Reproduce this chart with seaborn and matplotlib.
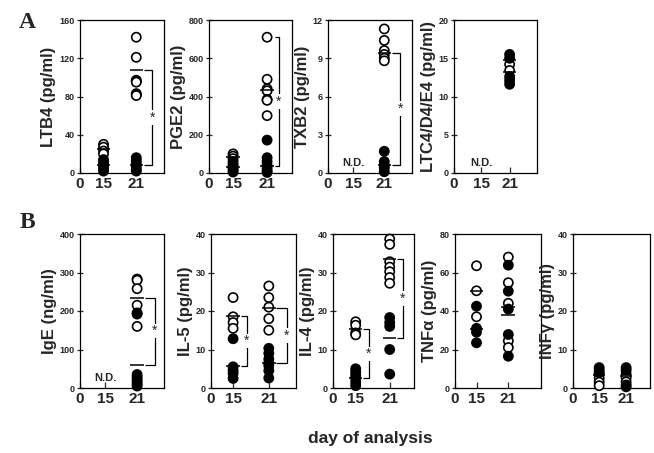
import matplotlib
matplotlib.use('Agg')
import matplotlib.pyplot as plt
import seaborn as sns
import pandas as pd

sns.set_style('ticks')
plt.rcParams['font.family'] = ['Liberation Sans', 'DejaVu Sans']
plt.rcParams['font.weight'] = 'bold'
plt.rcParams['axes.labelweight'] = 'bold'

DAY_LABELS = ['0', '15', '21']

# ---------------- data ----------------
LTB4_OPEN = {15: [30, 27, 23, 20], 21: [142, 121, 97, 96, 95, 83, 82, 81]}
LTB4_FILLED = {15: [14, 11, 8, 5, 2], 21: [16, 13, 10, 7, 4, 2]}
LTB4_MEANS = {15: [25, 8], 21: [108, 8]}
LTB4_SIG = {21: (108, 8)}

PGE2_OPEN = {15: [100, 88, 75], 21: [710, 490, 440, 430, 385, 380, 300]}
PGE2_FILLED = {15: [60, 45, 35, 25, 15, 5], 21: [172, 80, 60, 40, 25, 10, 3]}
PGE2_MEANS = {15: [85, 33], 21: [435, 38]}
PGE2_SIG = {21: (711, 36)}

TXB2_OPEN = {21: [11.3, 10.4, 9.6, 9.3, 9.0, 8.8]}
TXB2_FILLED = {21: [1.7, 0.9, 0.6, 0.4, 0.1]}
TXB2_MEANS = {21: [9.45, 0.62]}
TXB2_SIG = {21: (9.45, 0.62)}

LTC_OPEN = {21: [14.2, 13.4]}
LTC_FILLED = {21: [15.5, 15.0, 12.6, 12.1, 11.6]}
LTC_MEANS = {21: [14.8, 13.2]}
LTC_SIG = {}

IGE_OPEN = {21: [283, 280, 258, 215, 192, 160]}
IGE_FILLED = {21: [195, 35, 28, 22, 16, 10, 5]}
IGE_MEANS = {21: [235, 61]}
IGE_SIG = {21: (235, 61)}

IL5_OPEN = {15: [23.5, 18.5, 17.0, 15.5], 21: [26.5, 23.5, 21.0, 18.0, 15.0]}
IL5_FILLED = {15: [12.8, 5.5, 4.6, 3.8, 2.5], 21: [10.3, 9.0, 7.5, 6.5, 5.8, 4.5, 2.6]}
IL5_MEANS = {15: [18.7, 5.7], 21: [20.7, 6.4]}
IL5_SIG = {15: (18.7, 5.7), 21: (20.7, 6.4)}

IL4_OPEN = {15: [17.2, 16.3, 14.3, 13.8], 21: [38.7, 37.3, 32.8, 31.4, 30.2, 28.7, 27.2]}
IL4_FILLED = {15: [5.0, 4.2, 3.3, 2.5, 1.5, 0.6], 21: [18.3, 17.0, 16.0, 10.0, 3.6]}
IL4_MEANS = {15: [15.2, 2.5], 21: [33.4, 13.0]}
IL4_SIG = {15: (15.2, 2.5), 21: (33.4, 13.0)}

TNF_OPEN = {15: [63.5, 50.5, 37.0], 21: [68.0, 54.7, 44.0, 24.5, 21.0]}
TNF_FILLED = {15: [42.5, 31.0, 29.0, 23.5], 21: [63.8, 50.3, 41.0, 27.8, 16.5]}
TNF_MEANS = {15: [50.6, 30.4], 21: [42.0, 38.0]}
TNF_SIG = {}

INF_OPEN = {15: [3.5, 2.5, 1.5, 0.6], 21: [3.6, 2.6, 1.6]}
INF_FILLED = {15: [5.3, 4.6, 4.0], 21: [5.3, 4.6, 0.8, 0.3]}
INF_MEANS = {15: [3.3], 21: [3.2]}
INF_SIG = {}

# ---------------- layout ----------------
W, H = 654, 453
fig = plt.figure(figsize=(W / 100, H / 100), dpi=100)


def rect(l, r, t, b):
    return [l / W, 1 - b / H, (r - l) / W, (b - t) / H]


panels = [
    # ylabel, ymax, step, rect(px), xpos, open, filled, means, sig, bracket-x, N.D.
    ('LTB4 (pg/ml)', 160, 40, (80, 164, 20, 173), {15: 0.28, 21: 0.67},
     LTB4_OPEN, LTB4_FILLED, LTB4_MEANS, LTB4_SIG, {21: 0.86}, False),
    ('PGE2 (pg/ml)', 800, 200, (209, 292, 20, 173), {15: 0.29, 21: 0.70},
     PGE2_OPEN, PGE2_FILLED, PGE2_MEANS, PGE2_SIG, {21: 0.84}, False),
    ('TXB2 (pg/ml)', 12, 3, (328, 412, 20, 173), {15: 0.30, 21: 0.67},
     TXB2_OPEN, TXB2_FILLED, TXB2_MEANS, TXB2_SIG, {21: 0.86}, True),
    ('LTC4/D4/E4 (pg/ml)', 20, 5, (454, 537, 20, 173), {15: 0.33, 21: 0.67},
     LTC_OPEN, LTC_FILLED, LTC_MEANS, LTC_SIG, {}, True),
    ('IgE (ng/ml)', 400, 100, (80, 164, 234, 388), {15: 0.30, 21: 0.68},
     IGE_OPEN, IGE_FILLED, IGE_MEANS, IGE_SIG, {21: 0.89}, True),
    ('IL-5 (pg/ml)', 40, 10, (211, 296, 234, 388), {15: 0.26, 21: 0.68},
     IL5_OPEN, IL5_FILLED, IL5_MEANS, IL5_SIG, {15: 0.42, 21: 0.89}, False),
    ('IL-4 (pg/ml)', 40, 10, (333, 414, 234, 388), {15: 0.28, 21: 0.70},
     IL4_OPEN, IL4_FILLED, IL4_MEANS, IL4_SIG, {15: 0.44, 21: 0.86}, False),
    ('TNFα (pg/ml)', 80, 20, (455, 541, 234, 388), {15: 0.25, 21: 0.62},
     TNF_OPEN, TNF_FILLED, TNF_MEANS, TNF_SIG, {}, False),
    ('INFγ (pg/ml)', 40, 10, (573, 650, 234, 388), {15: 0.34, 21: 0.69},
     INF_OPEN, INF_FILLED, INF_MEANS, INF_SIG, {}, False),
]

for (ylabel, ymax, step, r, xpos, opn, fil, means, sig, bx, nd) in panels:
    ax = fig.add_axes(rect(*r))
    rows = []
    for day, vals in opn.items():
        rows += [(xpos[day], v, 'open') for v in vals]
    for day, vals in fil.items():
        rows += [(xpos[day], v, 'filled') for v in vals]
    df = pd.DataFrame(rows, columns=['pos', 'value', 'group'])
    sns.stripplot(data=df, x='pos', y='value', hue='group',
                  hue_order=['open', 'filled'],
                  palette={'open': 'white', 'filled': 'black'},
                  jitter=False, native_scale=True, orient='x', size=6.6,
                  linewidth=1.2, edgecolor='black', legend=False, ax=ax,
                  zorder=3, clip_on=False)
    for day, ms in means.items():
        ax.hlines(ms, xpos[day] - 0.08, xpos[day] + 0.08, color='black',
                  lw=1.1, zorder=4)
    for day, (top, bot) in sig.items():
        x0 = xpos[day] + 0.09
        x1 = bx[day]
        ax.plot([x0, x1, x1, x0], [top, top, bot, bot], color='black',
                lw=0.9, zorder=2, solid_capstyle='butt')
        ax.text(x1, (top + bot) / 2, '*', ha='center', va='center',
                fontsize=10, fontweight='normal', zorder=5,
                bbox=dict(facecolor='white', edgecolor='none', pad=0.3))
    if nd:
        ax.text(xpos[15], ymax * 0.035, 'N.D.', ha='center', va='bottom',
                fontsize=8, fontweight='bold')
    ax.set_xlim(0, 1)
    ax.set_ylim(0, ymax)
    ax.set_xticks([0, xpos[15], xpos[21]])
    ax.set_xticklabels(DAY_LABELS)
    ax.set_yticks(list(range(0, ymax + 1, step)))
    ax.set_xlabel('')
    ax.set_ylabel(ylabel, fontsize=12, fontweight='bold', labelpad=2)
    ax.tick_params(axis='x', direction='in', length=4, width=0.9,
                   labelsize=11, pad=3)
    ax.tick_params(axis='y', direction='inout', length=5, width=0.9,
                   labelsize=6.5, pad=1.5)
    for lab in ax.get_xticklabels() + ax.get_yticklabels():
        lab.set_fontweight('bold')
    for s in ax.spines.values():
        s.set_visible(True)
        s.set_linewidth(0.9)
        s.set_color('black')

fig.text(27 / W, 1 - 22 / H, 'A', fontsize=17, fontweight='bold',
         family=['Liberation Serif', 'DejaVu Serif'], ha='center', va='center')
fig.text(27 / W, 1 - 222 / H, 'B', fontsize=17, fontweight='bold',
         family=['Liberation Serif', 'DejaVu Serif'], ha='center', va='center')
fig.text(370 / W, 1 - 438 / H, 'day of analysis', fontsize=12.5,
         fontweight='bold', ha='center', va='center')

fig.savefig('out.png', dpi=100)
